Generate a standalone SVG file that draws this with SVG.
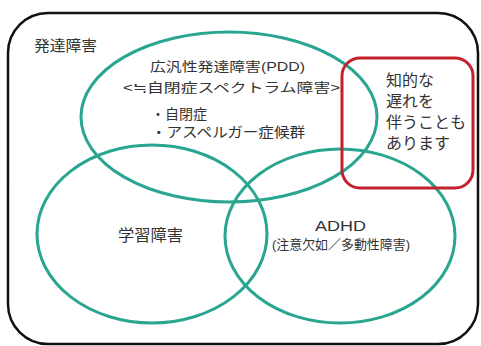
<svg xmlns="http://www.w3.org/2000/svg" width="481" height="346" viewBox="0 0 481 346">
<style>
text{font-family:"Liberation Sans","Noto Sans CJK JP",sans-serif;fill:#333;}
.set{fill:none;stroke:#2aa590;stroke-width:3;}
</style>
<rect x="0" y="0" width="481" height="346" fill="#fff"/>
<g id="outer">
<rect x="8" y="13" width="470" height="331" rx="40" ry="40" fill="none" stroke="#111" stroke-width="2.5"/>
<text x="34" y="51" font-size="15" textLength="63" lengthAdjust="spacingAndGlyphs">発達障害</text>
</g>
<g id="pdd">
<ellipse class="set" cx="229" cy="117" rx="148" ry="85"/>
<text x="150" y="71" font-size="13" textLength="155" lengthAdjust="spacingAndGlyphs">広汎性発達障害(PDD)</text>
<text x="123" y="92" font-size="13" textLength="217" lengthAdjust="spacingAndGlyphs">&lt;≒自閉症スペクトラム障害&gt;</text>
<text x="151" y="119" font-size="14">・自閉症</text>
<text x="151" y="137" font-size="14" textLength="154" lengthAdjust="spacingAndGlyphs">・アスペルガー症候群</text>
</g>
<g id="ld">
<ellipse class="set" cx="152" cy="234" rx="115" ry="89"/>
<text x="118" y="241" font-size="16" textLength="65" lengthAdjust="spacingAndGlyphs">学習障害</text>
</g>
<g id="adhd">
<ellipse class="set" cx="340" cy="236" rx="115" ry="87"/>
<text x="315" y="231" font-size="15" textLength="51" lengthAdjust="spacingAndGlyphs">ADHD</text>
<text x="272" y="249" font-size="13" textLength="138" lengthAdjust="spacingAndGlyphs">(注意欠如／多動性障害)</text>
</g>
<g id="note">
<rect x="342" y="58" width="131" height="130" rx="18" ry="18" fill="none" stroke="#c4202e" stroke-width="3"/>
<text x="386" y="86" font-size="16">知的な</text>
<text x="386" y="107" font-size="16">遅れを</text>
<text x="386" y="128" font-size="16">伴うことも</text>
<text x="386" y="149" font-size="16">あります</text>
</g>
<g id="connectors"/>
</svg>
